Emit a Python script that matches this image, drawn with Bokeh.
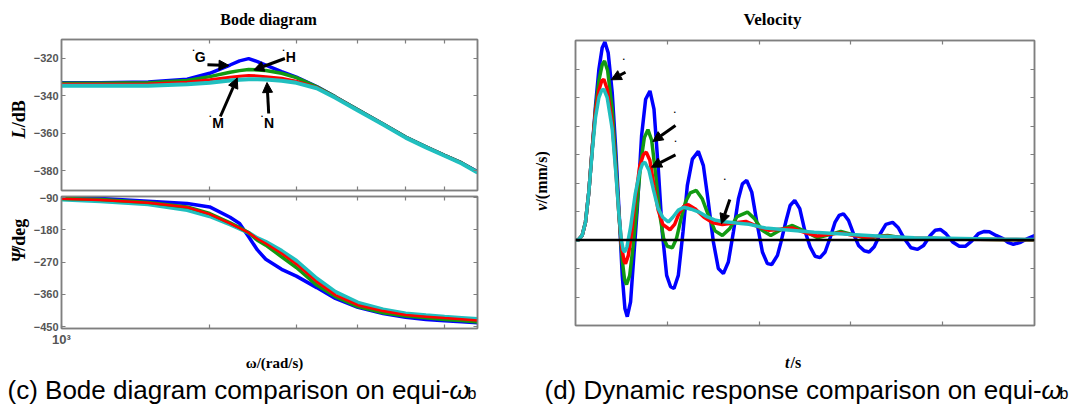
import math
from bokeh.plotting import figure
from bokeh.models import (Range1d, LinearAxis, LogAxis, FixedTicker, Label, Arrow,
                          NormalHead, Span, CustomJSTickFormatter)
from bokeh.core.properties import value
from bokeh.layouts import row, column
from bokeh.embed import file_html
from bokeh.resources import INLINE

# ---------------- data ----------------
omega = [1000, 1200, 1500, 1800, 2000, 2200, 2300, 2400, 2500, 2600, 2800,
         3000, 3300, 3600, 4000, 4500, 5000, 5500, 6000, 6500, 7000]

mag_blue = [-333.0, -333.0, -332.6, -331.2, -328.0, -323.6, -321.4, -320.2, -321.8, -323.6, -327.1,
            -330.1, -335.1, -340.6, -347.5, -355.0, -362.0, -367.2, -371.7, -375.8, -380.5]
mag_green = [-333.3, -333.3, -333.1, -331.9, -329.8, -327.5, -326.6, -326.0, -326.2, -326.5, -328.0,
             -330.3, -335.2, -340.6, -347.5, -355.0, -362.0, -367.2, -371.7, -375.8, -380.6]
mag_red = [-333.8, -333.8, -333.7, -332.8, -331.5, -330.1, -329.6, -329.2, -329.4, -329.8, -330.7,
           -332.2, -335.5, -340.7, -347.6, -355.1, -362.1, -367.3, -371.8, -375.9, -380.7]
mag_cyan = [-334.6, -334.7, -334.6, -333.8, -333.0, -331.9, -331.4, -331.2, -331.2, -331.3, -332.0,
            -333.1, -336.0, -341.0, -347.8, -355.3, -362.3, -367.5, -372.0, -376.1, -380.9]

ph_blue = [-90.0, -92.8, -100.2, -106.7, -116.0, -145.0, -162.0, -199.0, -236.0, -262.0, -290.0,
           -309.0, -341.0, -371.0, -396.0, -413.0, -424.0, -430.0, -433.5, -436.0, -439.0]
ph_green = [-92.8, -95.6, -104.0, -116.0, -134.5, -160.5, -173.5, -188.0, -209.0, -222.7, -255.0,
            -285.0, -334.0, -366.0, -394.0, -411.0, -420.0, -425.0, -429.6, -433.0, -437.0]
ph_red = [-93.5, -96.5, -104.5, -117.0, -136.0, -162.0, -175.0, -188.0, -205.0, -218.0, -246.0,
          -275.6, -325.0, -362.0, -390.0, -406.5, -417.6, -422.0, -426.0, -429.5, -433.0]
ph_cyan = [-95.6, -100.2, -108.6, -125.0, -142.0, -165.0, -176.5, -188.0, -203.0, -213.4, -238.5,
           -266.0, -315.5, -352.6, -383.0, -401.8, -413.0, -418.0, -422.0, -425.5, -428.7]

t_blue = [0, 0.03, 0.073, 0.109, 0.145, 0.182, 0.218, 0.255, 0.291, 0.32, 0.356, 0.4, 0.436, 0.473,
          0.509, 0.538, 0.564, 0.6, 0.636, 0.673, 0.72, 0.764, 0.811, 0.855, 0.902, 0.945, 0.993,
          1.036, 1.073, 1.12, 1.171, 1.218, 1.273, 1.338, 1.393, 1.447, 1.502, 1.556, 1.611, 1.665,
          1.72, 1.775, 1.818, 1.865, 1.92, 1.975, 2.036, 2.09, 2.138, 2.2, 2.236, 2.29, 2.338, 2.388,
          2.443, 2.497, 2.556, 2.61, 2.664, 2.719, 2.774, 2.828, 2.872, 2.919, 2.974, 3.028, 3.083,
          3.145, 3.199, 3.254, 3.32, 3.381, 3.454, 3.516, 3.581, 3.654, 3.726, 3.792, 3.864, 3.919,
          3.974, 4.036, 4.108, 4.181, 4.246, 4.315, 4.388, 4.454, 4.508, 4.581, 4.657, 4.71, 4.77,
          4.85, 4.93, 5.0]
v_blue = [0, 0, 0.16, 0.63, 1.68, 3.19, 4.71, 5.99, 6.75, 6.95, 6.57, 5.17, 3.31, 1.10,
          -1.24, -2.40, -2.69, -2.17, -0.54, 1.10, 3.66, 4.94, 5.23, 4.59, 2.49, 0.28, -1.24,
          -1.64, -1.70, -1.24, 0.28, 1.91, 2.84, 3.11, 2.61, 1.33, -0.07, -1.0, -1.18, -0.77,
          0.28, 1.45, 1.97, 2.09, 1.68, 0.63, -0.42, -0.83, -0.86, -0.54, -0.1, 0.63, 1.21, 1.39,
          1.10, 0.34, -0.24, -0.57, -0.62, -0.42, 0.08, 0.63, 0.86, 0.92, 0.69, 0.22, -0.19,
          -0.38, -0.42, -0.24, 0.22, 0.55, 0.62, 0.43, 0.05, -0.27, -0.33, -0.19, 0.16, 0.34,
          0.37, 0.22, -0.07, -0.22, -0.22, -0.04, 0.22, 0.30, 0.29, 0.16, 0.05, -0.08, -0.15,
          -0.08, 0.06, 0.15]

t_green = [0, 0.03, 0.073, 0.109, 0.145, 0.182, 0.218, 0.255, 0.291, 0.316, 0.35, 0.4, 0.436, 0.473,
           0.509, 0.535, 0.556, 0.59, 0.625, 0.665, 0.71, 0.75, 0.789, 0.83, 0.873, 0.92, 0.96, 1.0,
           1.055, 1.1, 1.15, 1.2, 1.25, 1.316, 1.38, 1.45, 1.52, 1.6, 1.68, 1.76, 1.873, 1.95, 2.03,
           2.127, 2.236, 2.363, 2.5, 2.635, 2.76, 2.89, 3.03, 3.17, 3.3, 3.4, 3.55, 3.7, 3.9, 4.1,
           4.4, 4.7, 5.0]
v_green = [0, 0, 0.16, 0.63, 1.68, 3.19, 4.6, 5.6, 6.15, 6.28, 5.95, 4.6, 2.9, 0.9,
           -0.7, -1.4, -1.56, -1.25, -0.3, 1.0, 2.7, 3.6, 3.87, 3.5, 2.3, 0.85, 0.05, -0.22,
           -0.27, 0.05, 0.75, 1.35, 1.65, 1.74, 1.45, 0.85, 0.32, 0.16, 0.4, 0.82, 0.98, 0.75, 0.35,
           0.16, 0.36, 0.51, 0.3, 0.08, 0.18, 0.30, 0.18, 0.05, 0.13, 0.16, 0.08, 0.03, 0.06, 0.03,
           0.03, 0.01, 0.0]

t_red = [0, 0.03, 0.073, 0.109, 0.145, 0.182, 0.218, 0.255, 0.285, 0.309, 0.345, 0.4, 0.436, 0.473,
         0.505, 0.53, 0.545, 0.575, 0.61, 0.65, 0.7, 0.74, 0.771, 0.81, 0.855, 0.9, 0.95, 1.029,
         1.08, 1.13, 1.18, 1.229, 1.3, 1.4, 1.5, 1.6, 1.72, 1.855, 1.98, 2.11, 2.236, 2.363, 2.5,
         2.635, 2.76, 2.89, 3.03, 3.17, 3.3, 3.4, 3.6, 3.9, 4.3, 4.7, 5.0]
v_red = [0, 0, 0.16, 0.63, 1.68, 3.19, 4.5, 5.25, 5.58, 5.64, 5.3, 4.1, 2.6, 0.9,
         -0.3, -0.75, -0.83, -0.55, 0.2, 1.4, 2.6, 3.0, 3.08, 2.8, 1.9, 1.05, 0.55, 0.36,
         0.55, 0.95, 1.18, 1.24, 1.1, 0.8, 0.6, 0.54, 0.6, 0.65, 0.48, 0.34, 0.38, 0.42, 0.26,
         0.14, 0.2, 0.25, 0.16, 0.1, 0.12, 0.13, 0.07, 0.05, 0.03, 0.02, 0.01]

t_cyan = [0, 0.03, 0.073, 0.109, 0.145, 0.182, 0.218, 0.255, 0.285, 0.309, 0.345, 0.4, 0.436, 0.473,
          0.5, 0.52, 0.535, 0.56, 0.6, 0.65, 0.7, 0.73, 0.756, 0.8, 0.85, 0.9, 0.95, 1.011, 1.06,
          1.12, 1.18, 1.26, 1.345, 1.43, 1.527, 1.62, 1.709, 1.8, 1.89, 2.07, 2.25, 2.6, 2.96, 3.33,
          3.69, 4.05, 4.66, 5.0]
v_cyan = [0, 0, 0.16, 0.63, 1.68, 3.1, 4.3, 5.0, 5.25, 5.29, 5.0, 3.9, 2.5, 0.9,
          0.0, -0.35, -0.42, -0.25, 0.45, 1.6, 2.4, 2.67, 2.73, 2.45, 1.75, 1.1, 0.8, 0.63, 0.8,
          1.05, 1.15, 1.08, 0.98, 0.82, 0.69, 0.64, 0.61, 0.58, 0.55, 0.42, 0.37, 0.27, 0.2, 0.13,
          0.08, 0.06, 0.03, 0.02]

mag_ticks = [-380, -360, -340, -320]
ph_ticks = [-450, -360, -270, -180, -90]
w_ticks = [2000, 3000, 4000, 5000, 6000]
w_label_ticks = [1000, 2000, 3000, 4000, 5000, 6000]
t_ticks = [1, 2, 3, 4]
v_ticks = [-2, -1, 0, 1, 2, 3, 4, 5, 6]

# ---------------- styles ----------------
BLUE, GREEN, RED, CYAN = "#0000ff", "#129a12", "#ff0000", "#20bfbf"
GRAY = "#7f7f7f"
SERIF, SANS = "Liberation Serif", "Liberation Sans"

# frame geometry in page pixels
AX0, AX1 = 58, 477          # bode frames, x
AT, AB = 39, 190            # magnitude frame, y
BT, BB = 196, 328           # phase frame, y
CX0, CX1, CT, CB = 575, 1034, 40, 325   # velocity frame

MAG_R = (-390.5, -310.0)
PH_R = (-455.0, -87.0)
W_R = (1000.0, 7000.0)
T_R = (0.0, 5.0)
V_R = (-3.0, 7.0)


def wx(px):
    lo, hi = math.log10(W_R[0]), math.log10(W_R[1])
    return 10 ** (lo + (px - AX0) / (AX1 - AX0) * (hi - lo))


def ay(py):
    return MAG_R[1] - (py - AT) / (AB - AT) * (MAG_R[1] - MAG_R[0])


def cx(px):
    return T_R[0] + (px - CX0) / (CX1 - CX0) * (T_R[1] - T_R[0])


def cy(py):
    return V_R[1] - (py - CT) / (CB - CT) * (V_R[1] - V_R[0])


def make_fig(width, height, left, right, top, bottom, xr, yr, xtype="linear"):
    p = figure(width=width, height=height, x_range=Range1d(*xr), y_range=Range1d(*yr),
               x_axis_type=xtype, x_axis_location=None, y_axis_location=None,
               output_backend="svg", toolbar_location=None, tools="",
               min_border_left=left, min_border_right=right,
               min_border_top=top, min_border_bottom=bottom)
    p.xgrid.visible = False
    p.ygrid.visible = False
    p.outline_line_color = GRAY
    p.outline_line_width = 1.5
    p.background_fill_color = "white"
    p.border_fill_color = "white"
    return p


def add_axis(p, cls, side, ticks, labelled=False, formatter=None, size=11):
    ax = cls(ticker=FixedTicker(ticks=ticks, minor_ticks=[]))
    ax.major_tick_in = 4
    ax.major_tick_out = 0
    ax.minor_tick_in = 0
    ax.minor_tick_out = 0
    ax.axis_line_color = GRAY
    ax.axis_line_width = 1.5
    ax.major_tick_line_color = GRAY
    ax.major_tick_line_width = 1.2
    ax.axis_label = None
    if labelled:
        if formatter is not None:
            ax.formatter = formatter
        ax.major_label_text_font = SANS
        ax.major_label_text_font_style = "bold"
        ax.major_label_text_font_size = f"{size}px"
        ax.major_label_text_color = "#555555"
        ax.major_label_standoff = 3
    else:
        ax.formatter = CustomJSTickFormatter(code="return ''")
        ax.major_label_text_font_size = "0px"
        ax.major_label_standoff = 0
    p.add_layout(ax, side)
    return ax


def lab(p, x, y, text, size, font=SANS, style="normal", align="left", baseline="alphabetic"):
    p.add_layout(Label(x=x, y=y, text=text, text_font=font, text_font_size=f"{size}px",
                       text_font_style=style, text_color="black", text_align=align,
                       text_baseline=baseline))


def arrow(p, x0, y0, x1, y1, head=10):
    p.add_layout(Arrow(x_start=x0, y_start=y0, x_end=x1, y_end=y1, line_color="black",
                       line_width=3,
                       end=NormalHead(size=head, fill_color="black", line_color="black",
                                      line_width=1)))


def strip(w, h):
    p = figure(width=w, height=h, x_range=Range1d(0, w), y_range=Range1d(0, h),
               x_axis_location=None, y_axis_location=None, output_backend="svg",
               toolbar_location=None, tools="", min_border=0)
    p.xgrid.visible = False
    p.ygrid.visible = False
    p.outline_line_color = None
    p.background_fill_color = "white"
    p.border_fill_color = "white"
    return p


def stext(p, x, y, text, size, font=SANS, style="normal", align="left",
          baseline="middle", angle=0.0):
    # x, y are pixel positions inside the strip, measured from its top-left corner
    p.text(x=[x], y=[p.height - y], text=[text], text_font=value(font),
           text_font_size=value(f"{size}px"), text_font_style=value(style),
           text_align=value(align), text_baseline=value(baseline), angle=angle,
           text_color="black")


# ---------------- magnitude ----------------
topL = strip(520, 32)
stext(topL, 268, 19, "Bode diagram", 16, SERIF, "bold", "center")

labA = strip(30, 160)
stext(labA, 18, 137 - 32, "L", 18, SERIF, "bold italic", "left", "middle", math.pi / 2)
stext(labA, 18, 125 - 32, "/dB", 18, SERIF, "bold", "left", "middle", math.pi / 2)

pa = make_fig(490, 160, AX0 - 30, 520 - AX1, AT - 32, 192 - AB, W_R, MAG_R, "log")
add_axis(pa, LinearAxis, "left", mag_ticks, labelled=True)
add_axis(pa, LinearAxis, "right", mag_ticks)
add_axis(pa, LogAxis, "below", w_ticks)
add_axis(pa, LogAxis, "above", w_ticks)
pa.line(omega, mag_blue, line_color=BLUE, line_width=3.5)
pa.line(omega, mag_green, line_color=GREEN, line_width=3.5)
pa.line(omega, mag_red, line_color=RED, line_width=3)
pa.line(omega, mag_cyan, line_color=CYAN, line_width=4)

for txt, (px, py), (dx, dy) in [("G", (197.7, 56.7), (191, 46)), ("H", (289, 56.7), (281.7, 46)),
                                ("M", (215.7, 122.5), (207.7, 112.7)), ("N", (267, 122.5), (260, 112.7))]:
    lab(pa, wx(px), ay(py), txt, 14, SANS, "bold", align="center", baseline="middle")
    lab(pa, wx(dx), ay(dy + 1), ".", 9, SANS, "bold", align="center")
arrow(pa, wx(205), ay(64.3), wx(226.7), ay(65))
arrow(pa, wx(283), ay(58), wx(251.7), ay(69.5))
arrow(pa, wx(218), ay(116), wx(235), ay(77.5))
arrow(pa, wx(266.7), ay(113), wx(265), ay(82))

# ---------------- phase ----------------
labB = strip(30, 158)
stext(labB, 18, 271 - 192, "\u03a8", 18, SERIF, "bold italic", "left", "middle", math.pi / 2)
stext(labB, 18, 257 - 192, "/deg", 18, SERIF, "bold", "left", "middle", math.pi / 2)

pb = make_fig(490, 158, AX0 - 30, 520 - AX1, BT - 192, 350 - BB, W_R, PH_R, "log")
add_axis(pb, LinearAxis, "left", ph_ticks, labelled=True)
add_axis(pb, LinearAxis, "right", ph_ticks)
add_axis(pb, LogAxis, "below", w_label_ticks, labelled=True, size=13,
         formatter=CustomJSTickFormatter(code="return tick == 1000 ? '10\u00b3' : ''"))
add_axis(pb, LogAxis, "above", w_ticks)
pb.line(omega, ph_blue, line_color=BLUE, line_width=3.5)
pb.line(omega, ph_cyan, line_color=CYAN, line_width=4)
pb.line(omega, ph_green, line_color=GREEN, line_width=3.5)
pb.line(omega, ph_red, line_color=RED, line_width=2.5)

botL = strip(520, 54)
stext(botL, 274, 12, "\u03c9/(rad/s)", 15, SERIF, "bold", "center")
stext(botL, 7, 39, "(c) Bode diagram comparison on equi-", 26, SANS)
stext(botL, 449, 39, "\u03c9", 26, SANS, "italic")
stext(botL, 467, 43, "b", 16, SANS)

# ---------------- velocity ----------------
topR = strip(563, 32)
stext(topR, 772 - 520, 19, "Velocity", 17, SERIF, "bold", "center")

labC = strip(30, 318)
stext(labC, 21, 222 - 32, "v", 16, SERIF, "bold italic", "left", "middle", math.pi / 2)
stext(labC, 21, 214 - 32, "/(mm/s)", 16, SERIF, "bold", "left", "middle", math.pi / 2)

pc = make_fig(533, 318, CX0 - 550, 1083 - CX1, CT - 32, 350 - CB, T_R, V_R)
add_axis(pc, LinearAxis, "left", v_ticks)
add_axis(pc, LinearAxis, "right", v_ticks)
add_axis(pc, LinearAxis, "below", t_ticks)
add_axis(pc, LinearAxis, "above", t_ticks)
pc.line(t_blue, v_blue, line_color=BLUE, line_width=3.5)
pc.line(t_green, v_green, line_color=GREEN, line_width=3.5)
pc.line(t_red, v_red, line_color=RED, line_width=3.5)
pc.line(t_cyan, v_cyan, line_color=CYAN, line_width=3.5)
pc.add_layout(Span(location=0, dimension="width", line_color="black", line_width=2.5))

for (dx, dy) in [(623.3, 55.7), (674.3, 108.3), (675, 137.3), (724.3, 175.7)]:
    lab(pc, cx(dx), cy(dy + 1), ".", 9, SANS, "bold", align="center")
arrow(pc, cx(625), cy(71.7), cx(610.7), cy(79.3))
arrow(pc, cx(675), cy(125), cx(652.3), cy(141))
arrow(pc, cx(675), cy(154.3), cx(651), cy(166.7))
arrow(pc, cx(729.3), cy(199), cx(721), cy(223.3))

botR = strip(563, 54)
stext(botR, 784.5 - 520, 12, "t", 16, SERIF, "bold italic", "left")
stext(botR, 790 - 520, 12, "/s", 16, SERIF, "bold", "left")
stext(botR, 544 - 520, 39, "(d) Dynamic response comparison on equi-", 26, SANS)
stext(botR, 1041 - 520, 39, "\u03c9", 26, SANS, "italic")
stext(botR, 1059 - 520, 43, "b", 16, SANS)

left = column(topL, row(labA, pa), row(labB, pb), botL)
right = column(topR, row(labC, pc), botR)
layout = row(left, right)
open("out.html", "w").write(file_html(layout, INLINE))
